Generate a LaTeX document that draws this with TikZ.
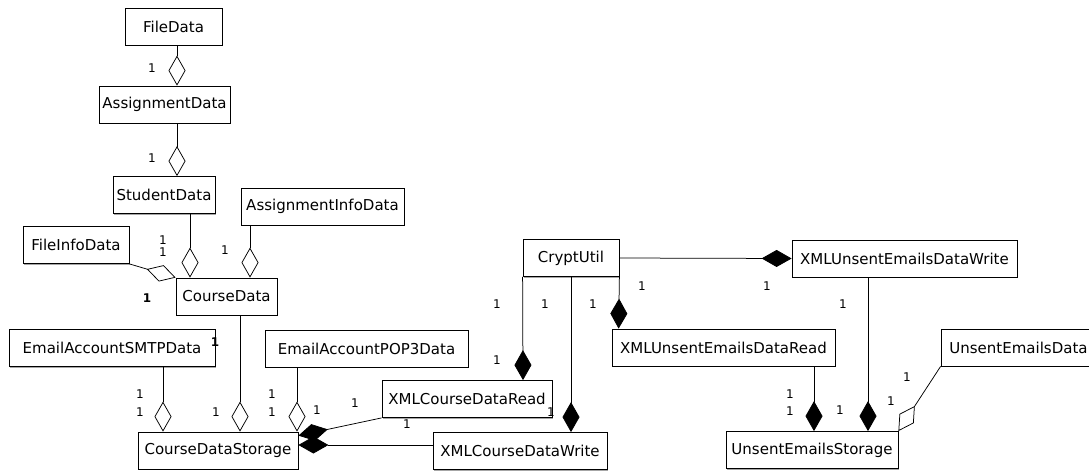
\documentclass[tikz,border=0pt]{standalone}
\usepackage{fontspec}
\newfontfamily\umlfont{DejaVu Sans}
\usetikzlibrary{arrows.meta,shadows}

\tikzset{
  cls/.style={draw, line width=.8pt, fill=white, minimum height=37pt, inner sep=2pt,
    font=\umlfont\fontsize{15}{17}\selectfont,
    drop shadow={shadow xshift=1.2pt, shadow yshift=-1.2pt, fill=black!35, opacity=1}},
  mult/.style={inner sep=0pt, font=\umlfont\fontsize{12}{13}\selectfont},
  agg/.style={line width=.75pt, -{Diamond[open, length=30pt, width=17pt]}},
  comp/.style={line width=.75pt, -{Diamond[length=30pt, width=17pt]}},
}

\begin{document}
\begin{tikzpicture}[x=1pt,y=-1pt]
\path[fill=white, use as bounding box] (0,0) rectangle (1089,472);

% course data side
\node[cls, minimum width=97pt] (filedata) at (173.5,26.5) {FileData};
\node[cls, minimum width=131pt] (assigndata) at (164.5,104.5) {AssignmentData};
\node[cls, minimum width=102pt] (studentdata) at (164,195) {StudentData};
\node[cls, minimum width=163pt] (assigninfo) at (322.5,206.5) {AssignmentInfoData};
\node[cls, minimum width=106pt] (fileinfo) at (76,245) {FileInfoData};
\node[cls, minimum width=101pt] (coursedata) at (226.5,296.5) {CourseData};
\node[cls, minimum width=206pt] (smtp) at (112,348) {EmailAccountSMTPData};
\node[cls, minimum width=203pt] (pop3) at (366.5,348.5) {EmailAccountPOP3Data};
\node[cls, minimum width=160pt] (storage) at (218,450.5) {CourseDataStorage};
\node[cls, minimum width=170pt] (xmlread) at (467,399) {XMLCourseDataRead};
\node[cls, minimum width=174pt] (xmlwrite) at (520,451) {XMLCourseDataWrite};

% unsent emails side
\node[cls, minimum width=96pt] (crypt) at (571,258) {CryptUtil};
\node[cls, minimum width=225pt] (unsentwrite) at (904.5,258.5) {XMLUnsentEmailsDataWrite};
\node[cls, minimum width=223pt] (unsentread) at (723.5,347.5) {XMLUnsentEmailsDataRead};
\node[cls, minimum width=155pt] (unsentdata) at (1018.5,347.5) {UnsentEmailsData};
\node[cls, minimum width=172pt] (unsentstore) at (812,450) {UnsentEmailsStorage};

\draw[agg] ([xshift=3.5pt]filedata.south) -- ([xshift=12.5pt]assigndata.north);
\draw[agg] ([xshift=12.5pt]assigndata.south) -- ([xshift=13pt]studentdata.north);
\draw[agg] ([xshift=26pt]studentdata.south) -- ([xshift=-36.5pt]coursedata.north);
\draw[agg] ([xshift=-72.5pt]assigninfo.south) -- ([xshift=23.5pt]coursedata.north);
\draw[agg] (fileinfo.south east) -- (coursedata.north west);
\draw[agg] ([xshift=13.5pt]coursedata.south) -- ([xshift=22pt]storage.north);
\draw[agg] ([xshift=51pt]smtp.south) -- ([xshift=-55pt]storage.north);
\draw[agg] ([xshift=-69.5pt]pop3.south) -- ([xshift=79pt]storage.north);
\draw[comp] (xmlread.south west) -- ([yshift=-4pt]storage.north east);
\draw[comp] ([yshift=6pt]xmlwrite.west) -- ([yshift=5.5pt]storage.east);

\draw[comp] (crypt.south west) -- ([xshift=56pt]xmlread.north);
\draw[comp] (crypt.south) -- ([xshift=51pt]xmlwrite.north);
\draw[comp] (crypt.south east) -- ([xshift=7pt]unsentread.north west);
\draw[comp] (crypt.east) -- (unsentwrite.west);
\draw[comp] ([xshift=-36.5pt]unsentwrite.south) -- ([xshift=56pt]unsentstore.north);
\draw[comp] ([xshift=90.5pt]unsentread.south) -- ([xshift=2pt]unsentstore.north);
\draw[agg] (unsentdata.south west) -- (unsentstore.north east);

\foreach[count=\k] \p in {(152,68),(152,158),(163,240),(163,252),(225,250),
  (216,412),(140,394),(140,412),(272,394),(272,412),(317,410),(355,403),(407,424),
  (497,304),(545,304),(593,304),(497,360),(551,412),(642,286),(767,286),
  (843,304),(840,410),(790,394),(790,411),(907,377),(891,401)}
  \node[mult] (m\k) at \p {1};
\node[mult, font=\umlfont\bfseries\fontsize{12}{13}\selectfont] (mfile) at (147,298) {1};
\node[mult, font=\umlfont\bfseries\fontsize{12}{13}\selectfont] (msmtp) at (215,342) {1};

\end{tikzpicture}
\end{document}
